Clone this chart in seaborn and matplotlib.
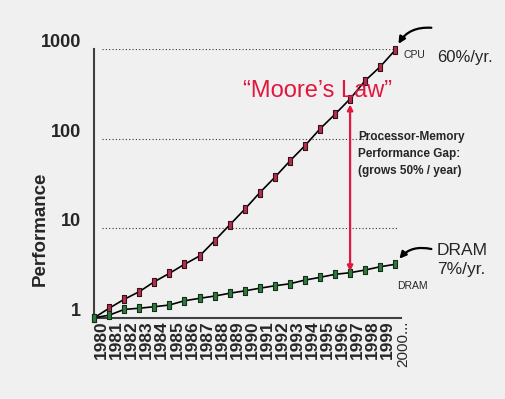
import numpy as np
import pandas as pd
import matplotlib.pyplot as plt
import seaborn as sns
from matplotlib.transforms import ScaledTranslation
from matplotlib.ticker import NullLocator, FixedLocator

years = [str(y) for y in range(1980, 2000)] + ['2000...']
cpu = [1.0, 1.28, 1.61, 1.96, 2.53, 3.14, 3.96, 4.9, 7.27, 10.9, 16.3,
       25.0, 37.1, 56.5, 83.7, 129, 188, 279, 446, 639, 982]
dram = [1.0, 1.07, 1.24, 1.28, 1.33, 1.39, 1.55, 1.65, 1.75, 1.88, 2.0,
        2.14, 2.28, 2.40, 2.64, 2.83, 3.06, 3.19, 3.42, 3.72, 3.96]
perf_ticks = [1, 10, 100, 1000]
gap_year = 17  # index of the "gap" arrow

idx = np.arange(len(years))
df = pd.DataFrame({'idx': idx, 'CPU': cpu, 'DRAM': dram})

sns.set_style('white')
plt.rcParams['font.family'] = ['Liberation Sans', 'DejaVu Sans']

bg = '#f0f0f0'
fig = plt.figure(figsize=(5.06, 3.99), dpi=100, facecolor=bg)
ax = fig.add_axes([0.186, 0.2035, 0.613, 0.673])
ax.set_facecolor(bg)

# slim upright box marker like the original
box = [(-0.65, -1), (0.65, -1), (0.65, 1), (-0.65, 1), (-0.65, -1)]
sns.lineplot(data=df, x='idx', y='CPU', ax=ax, color='black', lw=1.2,
             marker=box, markersize=5.5, markerfacecolor='#b03050',
             markeredgecolor='#3a1018', markeredgewidth=0.8, clip_on=False, zorder=3)
sns.lineplot(data=df, x='idx', y='DRAM', ax=ax, color='black', lw=1.2,
             marker=box, markersize=5.5, markerfacecolor='#2f7a3c',
             markeredgecolor='#10301a', markeredgewidth=0.8, clip_on=False, zorder=3)

ax.set_yscale('log')
ax.set_ylim(1, 1000)
ax.set_xlim(0, 20.6)

# dotted reference lines
ax.hlines(perf_ticks[1:], 0.5, 20.1, colors='#333333', linestyles=(0, (1, 2)), lw=0.8)

# y axis
ax.yaxis.set_major_locator(FixedLocator(perf_ticks))
ax.yaxis.set_minor_locator(NullLocator())
ax.set_yticklabels([str(t) for t in perf_ticks], fontsize=13, fontweight='bold')
ax.tick_params(axis='y', length=0, pad=9.5)
for lab in ax.get_yticklabels():
    lab.set_transform(lab.get_transform() + ScaledTranslation(0, 6 / 72, fig.dpi_scale_trans))
ax.set_ylabel('Performance', fontsize=13.5, fontweight='bold')
ax.yaxis.set_label_coords(-0.145, 0.33)

# x axis: tick marks at points, labels between them
ax.xaxis.set_major_locator(FixedLocator(idx[1:]))
ax.xaxis.set_minor_locator(FixedLocator(idx + 0.5))
ax.set_xticklabels([], minor=False)
ax.set_xticklabels(years, minor=True, rotation=90, fontsize=12.5, fontweight='bold')
ax.get_xticklabels(minor=True)[-1].set_fontweight('normal')
ax.get_xticklabels(minor=True)[-1].set_fontsize(11)
ax.tick_params(axis='x', which='major', direction='inout', length=6, width=1, color='#404040')
ax.tick_params(axis='x', which='minor', length=0, pad=2)
ax.set_xlabel('')

sns.despine(ax=ax)
for s in ['left', 'bottom']:
    ax.spines[s].set_color('#404040')
    ax.spines[s].set_linewidth(1.5)
ax.spines['bottom'].set_bounds(0, 20.35)

# gap arrow
ax.annotate('', xy=(gap_year, cpu[gap_year]), xytext=(gap_year, dram[gap_year]),
            arrowprops=dict(arrowstyle='<|-|>', color='#e0173f', lw=1.6,
                            mutation_scale=8, shrinkA=1, shrinkB=4))

# curved pointer arrows
ax.annotate('', xy=(idx[-1], cpu[-1]), xytext=(26, 16), textcoords='offset points',
            arrowprops=dict(arrowstyle='-|>', color='black', lw=1.6, mutation_scale=10,
                            connectionstyle='arc3,rad=0.35', shrinkA=0, shrinkB=5))
ax.annotate('', xy=(idx[-1], dram[-1]), xytext=(26, 11), textcoords='offset points',
            arrowprops=dict(arrowstyle='-|>', color='black', lw=1.6, mutation_scale=10,
                            connectionstyle='arc3,rad=0.35', shrinkA=0, shrinkB=5))

fig.text(0.628, 0.772, '\u201cMoore\u2019s Law\u201d', color='#e0173f', fontsize=17,
         ha='center', va='center')
fig.text(0.7075, 1 - 131 / 399, 'Processor-Memory\nPerformance Gap:\n(grows 50% / year)',
         fontsize=8.5, fontweight='bold', ha='left', va='top', linespacing=1.55)
fig.text(0.863, 0.857, '60%/yr.', fontsize=12, ha='left', va='center')
fig.text(0.863, 0.348, 'DRAM\n7%/yr.', fontsize=12.5, ha='left', va='center', linespacing=1.3)
fig.text(0.798, 0.862, 'CPU', fontsize=7.5, ha='left', va='center')
fig.text(0.784, 0.283, 'DRAM', fontsize=7.5, ha='left', va='center')

fig.savefig('out.png', dpi=100, facecolor=bg)
